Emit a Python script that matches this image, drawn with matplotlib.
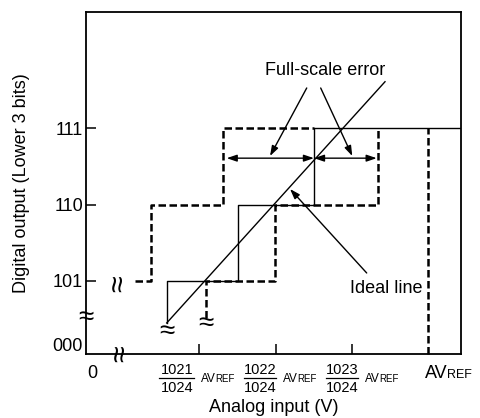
import matplotlib
matplotlib.use('Agg')
import matplotlib.pyplot as plt
from matplotlib import transforms

plt.rcParams['font.family'] = ['Liberation Sans', 'DejaVu Sans']

# ---------------- data (x in LSB units of AVREF/1024, y = lower 3 bits code) -------------
y_codes = [5, 6, 7]
y_code_labels = ['101', '110', '111']
x_ticks = [1021, 1022, 1023]
frac_num = ['1021', '1022', '1023']
frac_den = '1024'

# actual conversion characteristic (solid step)
solid_x = [1020.573, 1020.573, 1021.511, 1021.511, 1022.503, 1022.503, 1024.6]
solid_y = [4.45, 5, 5, 6, 6, 7, 7]

# ideal line
ideal_x = [1020.573, 1023.434]
ideal_y = [4.45, 7.612]

# dashed step (left, shifted)
dashL_x = [1020.157, 1020.363, 1020.363, 1021.307, 1021.307, 1022.503]
dashL_y = [5, 5, 6, 6, 7, 7]

# dashed step (right, shifted)
dashR_x = [1021.084, 1021.084, 1021.992, 1021.992, 1023.346, 1023.346]
dashR_y = [4.515, 5, 5, 6, 6, 7]

# AVREF dashed vertical
avref_x = 1024.0
avref_y = [4.043, 7]

# full-scale error arrows
fse_y = 6.61
fse_left = (1021.359, 1022.503)
fse_right = (1022.503, 1023.325)

XLIM = (1019.515, 1024.43)
YLIM = (4.043, 8.526)

# ---------------- figure ----------------
W, H = 481, 418
fig = plt.figure(figsize=(W / 100, H / 100), dpi=100)
ax = fig.add_axes([86 / W, (H - 354) / H, (461 - 86) / W, (354 - 12) / H])
ax.set_xlim(*XLIM)
ax.set_ylim(*YLIM)
for s in ax.spines.values():
    s.set_linewidth(1.3)

ax.set_xticks(x_ticks)
ax.set_xticklabels([])
ax.set_yticks(y_codes)
ax.set_yticklabels(y_code_labels)
ax.tick_params(axis='both', direction='in', length=7.5, width=1.1, labelsize=13, pad=2)

dash = (0, (3.0, 1.4))
ax.plot(solid_x, solid_y, color='k', lw=1.0)
ax.plot(ideal_x, ideal_y, color='k', lw=1.0)
ax.plot(dashL_x, dashL_y, color='k', lw=1.8, linestyle=dash)
ax.plot(dashR_x, dashR_y, color='k', lw=1.8, linestyle=dash)
ax.plot([avref_x, avref_x], avref_y, color='k', lw=1.8, linestyle=dash, clip_on=False)

aprops = dict(arrowstyle='<|-|>,head_length=0.5,head_width=0.17', color='k', lw=1.0,
              mutation_scale=12, shrinkA=0, shrinkB=0)
ax.annotate('', xy=(fse_left[1], fse_y), xytext=(fse_left[0], fse_y), arrowprops=aprops)
ax.annotate('', xy=(fse_right[1], fse_y), xytext=(fse_right[0], fse_y), arrowprops=aprops)

sprops = dict(arrowstyle='-|>,head_length=0.5,head_width=0.17', color='k', lw=1.0,
              mutation_scale=12, shrinkA=0, shrinkB=0)
ax.text(1022.647, 7.765, 'Full-scale error', fontsize=13, ha='center', va='center')
ax.annotate('', xy=(1021.927, 6.638), xytext=(1022.408, 7.53), arrowprops=sprops)
ax.annotate('', xy=(1023.005, 6.638), xytext=(1022.591, 7.53), arrowprops=sprops)
ax.text(1023.456, 4.908, 'Ideal line', fontsize=13, ha='center', va='center')
ax.annotate('', xy=(1022.189, 6.206), xytext=(1023.194, 5.105), arrowprops=sprops)

# break marks
brk = dict(fontsize=20, ha='center', va='center', color='k', clip_on=False)
ax.text(XLIM[0], 4.52, '\u2248', **brk)
ax.text(1020.573, 4.33, '\u2248', **brk)
ax.text(1021.084, 4.43, '\u2248', **brk)
brk_v = dict(fontsize=22, ha='center', va='center', color='k', clip_on=False, rotation=90)
ax.text(1019.95, 4.96, '\u2248', **brk_v)
ax.text(1019.97, YLIM[0], '\u2248', **brk_v)

# extra y label "000"
ax.text(-0.01, 4.135, '000', transform=transforms.blended_transform_factory(ax.transAxes, ax.transData),
        fontsize=13, ha='right', va='center')

# ---------------- x labels ----------------
def fy(py):
    return 1 - py / H

def fx(px):
    return px / W

fig.text(fx(92), fy(374), '0', fontsize=13, ha='center', va='center')
fig.text(fx(425), fy(374), 'AV', fontsize=13, ha='left', va='center')
fig.text(fx(447.5), fy(375.3), 'REF', fontsize=9, ha='left', va='center')

bar_left = [159.3, 244.0, 326.0]
bar_right = [194.3, 276.5, 358.3]
av_left = [201.0, 283.3, 365.0]
for i in range(3):
    cx = (bar_left[i] + bar_right[i]) / 2
    fig.text(fx(cx), fy(370.5), frac_num[i], fontsize=10.5, ha='center', va='center')
    fig.text(fx(cx), fy(387.5), frac_den, fontsize=10.5, ha='center', va='center')
    fig.add_artist(plt.Line2D([fx(bar_left[i]), fx(bar_right[i])], [fy(378.3), fy(378.3)],
                              color='k', lw=0.9, transform=fig.transFigure))
    fig.text(fx(av_left[i]), fy(378.5), 'AV', fontsize=8.5, ha='left', va='center')
    fig.text(fx(av_left[i] + 14.3), fy(379.3), 'REF', fontsize=7, ha='left', va='center')

fig.text(fx(274), fy(408), 'Analog input (V)', fontsize=13, ha='center', va='center')
fig.text(fx(22), fy(183), 'Digital output (Lower 3 bits)', fontsize=13, ha='center',
         va='center', rotation=90)

fig.savefig('out.png', dpi=100)
